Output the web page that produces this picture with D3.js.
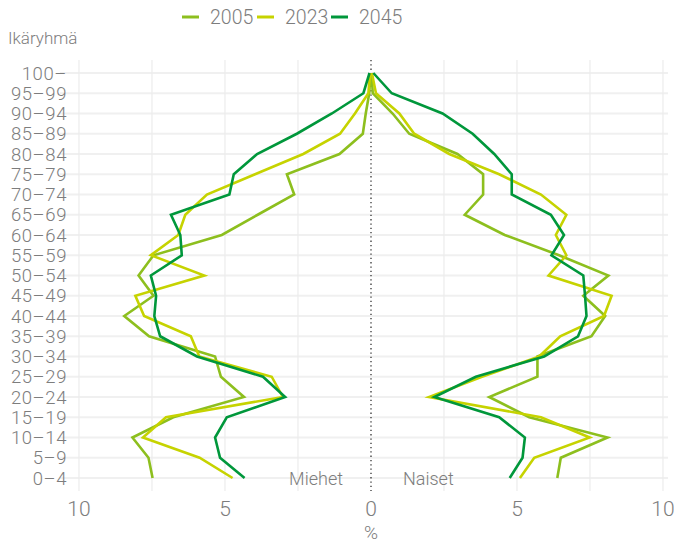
<!DOCTYPE html>
<html>
<head>
<meta charset="utf-8">
<script src="https://cdn.jsdelivr.net/npm/d3@7"></script>
<style>
  body { margin: 0; background: #fff; }
  svg text { font-family: Roboto, Lato, sans-serif; font-weight: 300; fill: #7d7d7d; }
</style>
</head>
<body>
<svg id="chart" width="674" height="543"></svg>
<script>
// age groups, top to bottom
const ageGroups = ["100–", "95–99", "90–94", "85–89", "80–84", "75–79", "70–74",
  "65–69", "60–64", "55–59", "50–54", "45–49", "40–44", "35–39", "30–34",
  "25–29", "20–24", "15–19", "10–14", "5–9", "0–4"];

const years = ["2005", "2023", "2045"];
const colors = ["#8dbf1e", "#c6d300", "#00973b"];

// share of population (%) per age group, same order as ageGroups
const men2005 = [0.02, 0.06, 0.18, 0.28, 1.08, 2.88, 2.63, 3.88, 5.11, 7.45, 7.96,
  7.45, 8.45, 7.6, 5.34, 5.14, 4.35, 6.77, 8.17, 7.62, 7.48];
const men2023 = [0.03, 0.09, 0.55, 1.06, 2.32, 3.97, 5.62, 6.36, 6.6, 7.54, 5.71,
  8.07, 7.77, 6.17, 5.88, 3.4, 3.02, 7.02, 7.81, 5.87, 4.74];
const men2045 = [0.05, 0.26, 1.34, 2.54, 3.9, 4.7, 4.85, 6.85, 6.53, 6.48, 7.54,
  7.36, 7.42, 7.22, 5.96, 3.7, 2.94, 4.94, 5.34, 5.17, 4.33];

const women2005 = [0.02, 0.06, 0.74, 1.31, 2.96, 3.84, 3.84, 3.21, 4.58, 6.44, 8.13,
  7.27, 8.02, 7.55, 5.7, 5.7, 4.05, 5.42, 8.1, 6.5, 6.38];
const women2023 = [0.03, 0.17, 0.97, 1.48, 2.68, 4.39, 5.82, 6.69, 6.33, 6.69, 6.08,
  8.24, 7.98, 6.48, 5.76, 3.8, 1.99, 5.82, 7.49, 5.59, 5.1];
const women2045 = [0.08, 0.71, 2.45, 3.48, 4.22, 4.82, 4.82, 6.16, 6.61, 6.18, 7.27,
  7.33, 7.38, 7.09, 5.93, 3.59, 2.17, 4.39, 5.27, 5.19, 4.75];

const xTicks = [-10, -5, 0, 5, 10];
const xGrid = [-10, -7.5, -5, -2.5, 0, 2.5, 5, 7.5, 10];

const svg = d3.select("#chart");

const x = d3.scaleLinear().domain([-10, 10]).range([79, 663]);
const y = d3.scalePoint().domain(ageGroups).range([73, 478]);

// grid
svg.append("g").selectAll("line")
  .data(ageGroups)
  .join("line")
    .attr("x1", 60).attr("x2", 668)
    .attr("y1", d => y(d)).attr("y2", d => y(d))
    .attr("stroke", "#f0f0f0").attr("stroke-width", 2);

svg.append("g").selectAll("line")
  .data(xGrid.filter(d => d !== 0))
  .join("line")
    .attr("x1", d => x(d)).attr("x2", d => x(d))
    .attr("y1", 60).attr("y2", 491)
    .attr("stroke", "#ececec").attr("stroke-width", 1.2);

// zero line
svg.append("line")
  .attr("x1", x(0)).attr("x2", x(0))
  .attr("y1", 60).attr("y2", 491)
  .attr("stroke", "#333").attr("stroke-width", 1.3)
  .attr("stroke-dasharray", "1.3,3");

// y labels
svg.append("g").selectAll("text")
  .data(ageGroups)
  .join("text")
    .attr("x", 67)
    .attr("y", d => y(d))
    .attr("dy", "0.36em")
    .attr("text-anchor", "end")
    .attr("font-size", 18.5)
    .attr("letter-spacing", 0.6)
    .text(d => d);

// x labels
svg.append("g").selectAll("text")
  .data(xTicks)
  .join("text")
    .attr("x", d => x(d))
    .attr("y", 516)
    .attr("text-anchor", "middle")
    .attr("font-size", 21)
    .text(d => Math.abs(d));

svg.append("text")
  .attr("x", x(0)).attr("y", 539)
  .attr("text-anchor", "middle")
  .attr("font-size", 19)
  .text("%");

svg.append("text")
  .attr("x", 8).attr("y", 44)
  .attr("font-size", 17)
  .text("Ikäryhmä");

svg.append("text")
  .attr("x", 343).attr("y", 485)
  .attr("text-anchor", "end")
  .attr("font-size", 18)
  .text("Miehet");

svg.append("text")
  .attr("x", 403).attr("y", 485)
  .attr("font-size", 18)
  .text("Naiset");

// lines
const menSeries = [men2005, men2023, men2045];
const womenSeries = [women2005, women2023, women2045];

const line = d3.line()
  .x(d => x(d.v))
  .y(d => y(d.age));

years.forEach((yr, i) => {
  const men = menSeries[i].map((v, j) => ({ age: ageGroups[j], v: -v }));
  const women = womenSeries[i].map((v, j) => ({ age: ageGroups[j], v: v }));
  [men, women].forEach(data => {
    svg.append("path")
      .datum(data)
      .attr("fill", "none")
      .attr("stroke", colors[i])
      .attr("stroke-width", 2.6)
      .attr("stroke-linejoin", "miter")
      .attr("d", line);
  });
});

// legend
const legend = svg.append("g");
const legendX = [182, 257, 331];
years.forEach((yr, i) => {
  legend.append("line")
    .attr("x1", legendX[i]).attr("x2", legendX[i] + 17)
    .attr("y1", 17).attr("y2", 17)
    .attr("stroke", colors[i]).attr("stroke-width", 3);
  legend.append("text")
    .attr("x", legendX[i] + 28).attr("y", 24)
    .attr("font-size", 19.5)
    .text(yr);
});
</script>
</body>
</html>
